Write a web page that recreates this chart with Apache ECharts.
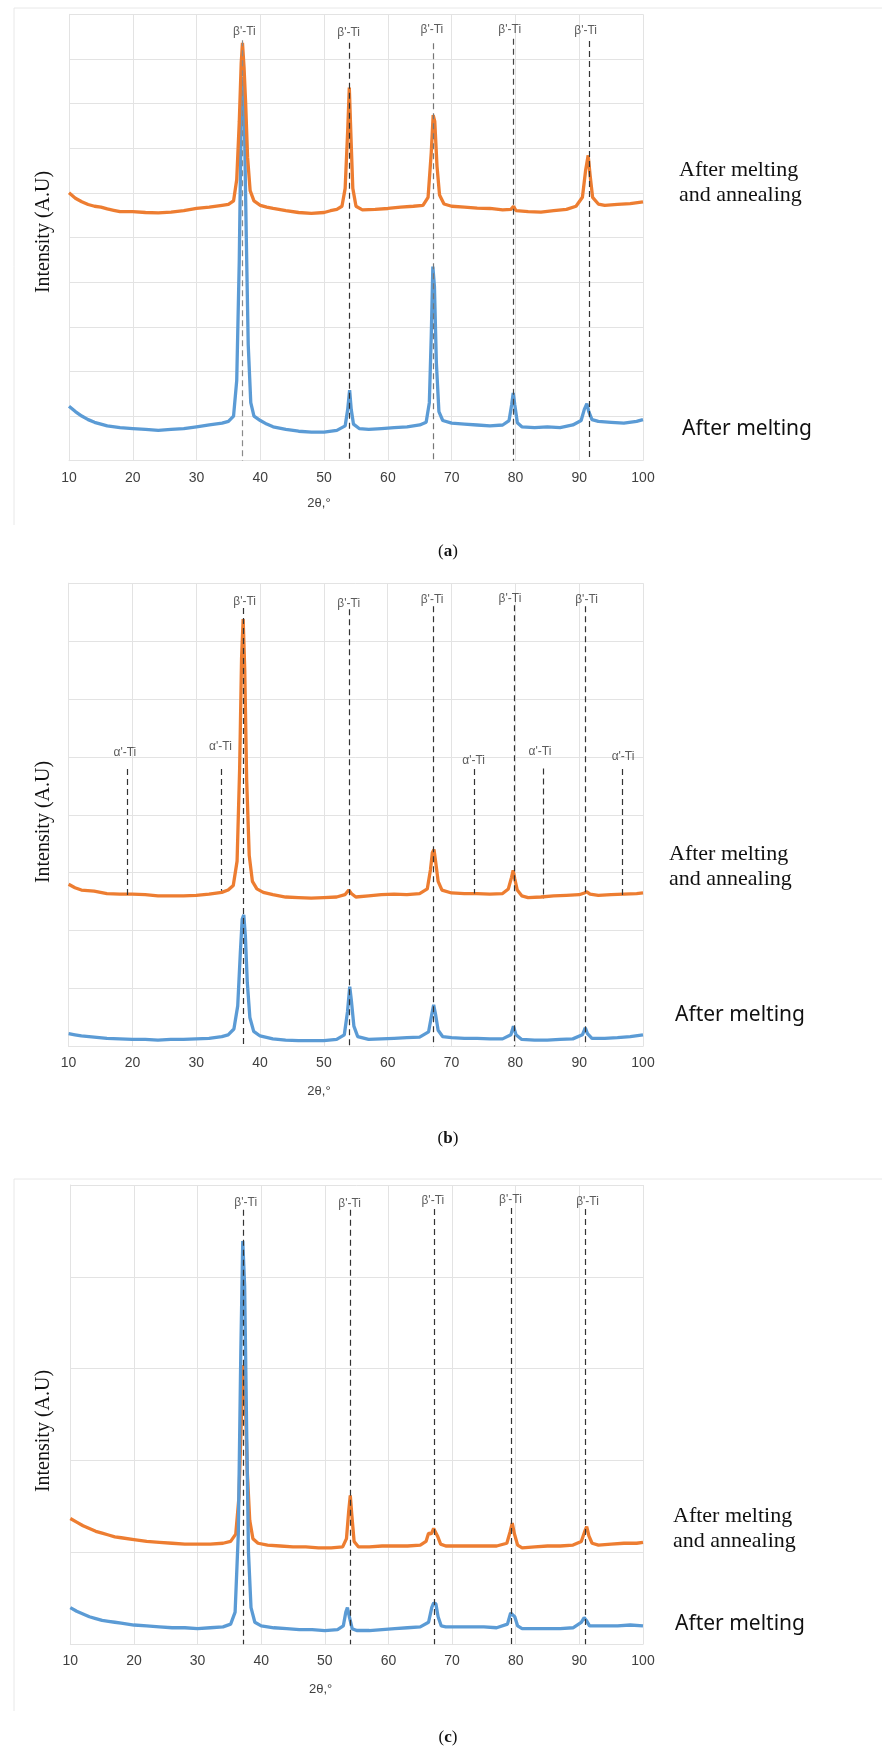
<!DOCTYPE html>
<html>
<head>
<meta charset="utf-8">
<script src="https://cdn.jsdelivr.net/npm/echarts@6/dist/echarts.min.js"></script>
<style>
html,body{margin:0;padding:0;background:#fff;}
#c{width:882px;height:1753px;}
</style>
</head>
<body>
<div id="c"></div>
<script>
// ---------- Panel (a) ----------
const aMelt = [[10,1.22],[11,1.1],[12,1.0],[13,0.92],[14,0.86],[15,0.82],[16,0.78],[18,0.74],[20,0.72],[22,0.7],[24,0.68],[26,0.7],[28,0.72],[30,0.76],[32,0.8],[34,0.84],[35,0.88],[35.8,1.0],[36.3,1.8],[36.7,4.5],[37.0,7.8],[37.25,8.6],[37.5,7.6],[37.8,5.0],[38.1,2.6],[38.5,1.3],[39,1.0],[40,0.9],[41,0.82],[42,0.76],[44,0.7],[46,0.66],[48,0.64],[50,0.64],[52,0.68],[53.3,0.78],[53.7,1.15],[54.0,1.58],[54.25,1.15],[54.6,0.82],[55.5,0.72],[57,0.7],[59,0.72],[61,0.74],[63,0.76],[65,0.8],[66,0.86],[66.5,1.3],[66.8,2.8],[67.05,4.35],[67.3,3.9],[67.6,2.2],[68,1.1],[68.6,0.9],[70,0.84],[72,0.82],[74,0.8],[76,0.78],[78,0.8],[79.0,0.9],[79.4,1.25],[79.65,1.52],[79.9,1.25],[80.3,0.85],[81,0.76],[83,0.74],[85,0.76],[87,0.74],[89,0.8],[90.3,0.9],[90.8,1.15],[91.2,1.28],[91.5,1.1],[92,0.92],[93,0.88],[95,0.86],[97,0.84],[99,0.88],[100,0.92]];
const aAnneal = [[10,6.0],[11,5.88],[12,5.8],[13,5.74],[14,5.7],[15,5.68],[16,5.64],[17,5.61],[18,5.58],[20,5.58],[22,5.56],[24,5.55],[26,5.57],[28,5.6],[30,5.65],[32,5.68],[34,5.72],[35,5.74],[35.8,5.82],[36.3,6.3],[36.7,7.6],[37.0,8.9],[37.2,9.36],[37.45,8.8],[37.7,8.0],[38.0,6.8],[38.4,6.05],[39,5.82],[40,5.72],[41,5.68],[42,5.65],[44,5.6],[46,5.56],[48,5.54],[50,5.56],[51,5.6],[52,5.63],[52.8,5.7],[53.3,6.1],[53.7,7.4],[53.95,8.36],[54.2,7.3],[54.5,6.1],[55,5.7],[56,5.62],[58,5.63],[60,5.65],[62,5.68],[64,5.7],[65.5,5.72],[66.3,5.9],[66.8,6.9],[67.1,7.74],[67.35,7.6],[67.7,6.6],[68.1,5.95],[68.8,5.75],[70,5.7],[72,5.68],[74,5.66],[76,5.65],[78,5.62],[79.3,5.63],[79.7,5.7],[80.1,5.6],[82,5.58],[84,5.57],[86,5.6],[88,5.63],[89.5,5.7],[90.5,5.9],[91.0,6.5],[91.4,6.84],[91.7,6.4],[92.1,5.9],[93,5.75],[94,5.72],[96,5.74],[98,5.76],[100,5.8]];
const aBetaX = [37.2, 53.95, 67.1, 79.6, 91.5];
const aBetaTop = [9.42, 9.36, 9.35, 9.45, 9.4];
const aBetaColor = ['#8a8a8a', '#333333', '#777777', '#444444', '#333333'];
const aBetaLabelX = [37.5, 53.85, 66.9, 79.1, 91.0];
const aBetaLabelY = [9.6, 9.58, 9.66, 9.66, 9.64];

// ---------- Panel (b) ----------
const bMelt = [[10,0.22],[11,0.2],[12,0.18],[14,0.16],[16,0.14],[18,0.13],[20,0.12],[22,0.12],[24,0.11],[26,0.12],[28,0.12],[30,0.13],[32,0.14],[34,0.17],[35,0.2],[35.9,0.3],[36.5,0.7],[36.9,1.6],[37.2,2.2],[37.45,2.27],[37.7,1.9],[38.0,1.1],[38.4,0.5],[39,0.26],[40,0.18],[42,0.13],[44,0.11],[46,0.1],[48,0.1],[50,0.1],[52,0.12],[53.2,0.2],[53.7,0.6],[54.05,1.03],[54.3,0.8],[54.7,0.35],[55.3,0.17],[57,0.12],[59,0.13],[61,0.14],[63,0.15],[65,0.16],[66.4,0.25],[66.9,0.55],[67.2,0.72],[67.5,0.55],[67.9,0.28],[68.6,0.17],[70,0.15],[72,0.14],[74,0.14],[76,0.13],[78,0.13],[79.3,0.2],[79.7,0.35],[80.1,0.2],[81,0.12],[83,0.11],[85,0.11],[87,0.12],[89,0.13],[90.5,0.2],[90.95,0.32],[91.3,0.22],[92,0.14],[94,0.14],[96,0.15],[98,0.17],[100,0.2]];
const bAnneal = [[10,2.8],[11,2.74],[12,2.7],[14,2.68],[16,2.64],[18,2.63],[20,2.63],[22,2.62],[24,2.6],[26,2.6],[28,2.6],[30,2.61],[32,2.63],[34,2.66],[35,2.7],[35.8,2.78],[36.4,3.2],[36.8,4.8],[37.1,6.7],[37.35,7.38],[37.6,6.5],[37.9,4.6],[38.3,3.3],[38.8,2.85],[39.5,2.72],[40.5,2.66],[42,2.62],[44,2.58],[46,2.57],[48,2.56],[50,2.57],[52,2.58],[53.3,2.62],[53.9,2.7],[54.3,2.64],[55,2.58],[57,2.6],[59,2.62],[61,2.63],[63,2.62],[65,2.64],[66.2,2.72],[66.7,3.05],[67.0,3.35],[67.25,3.4],[67.5,3.2],[67.9,2.85],[68.5,2.7],[70,2.65],[72,2.64],[74,2.64],[76,2.63],[78,2.64],[78.9,2.72],[79.4,2.92],[79.65,3.04],[79.9,2.9],[80.3,2.7],[81,2.6],[82,2.57],[84,2.58],[86,2.6],[88,2.61],[90,2.62],[90.8,2.65],[91.2,2.67],[91.7,2.63],[93,2.61],[95,2.62],[97,2.63],[99,2.64],[100,2.65]];
const bBetaX = [37.3, 54.0, 67.2, 79.75, 91.0];
const bBetaTop = [7.57, 7.55, 7.6, 7.62, 7.6];
const bBetaLabelX = [37.58, 53.89, 66.95, 79.16, 91.16];
const bBetaLabelY = [7.68, 7.65, 7.72, 7.74, 7.72];
const bAlphaX = [19.2, 33.9, 73.6, 84.3, 96.7];
const bAlphaTop = [4.79, 4.79, 4.79, 4.8, 4.79];
const bAlphaBottom = [2.6, 2.69, 2.64, 2.55, 2.57];
const bAlphaLabelX = [18.82, 33.8, 73.46, 83.86, 96.87];
const bAlphaLabelY = [5.07, 5.18, 4.93, 5.09, 5.01];

// ---------- Panel (c) ----------
const cMelt = [[10,0.4],[11,0.36],[12,0.33],[13,0.3],[14,0.28],[15,0.26],[16,0.25],[17,0.24],[18,0.23],[20,0.21],[22,0.2],[24,0.19],[26,0.18],[28,0.18],[30,0.17],[32,0.18],[34,0.19],[35.2,0.22],[35.9,0.35],[36.4,1.2],[36.8,3.2],[37.1,4.39],[37.4,3.9],[37.7,2.4],[38.0,1.0],[38.4,0.4],[39,0.24],[40,0.2],[42,0.18],[44,0.17],[46,0.16],[48,0.16],[50,0.15],[52,0.16],[52.9,0.2],[53.3,0.35],[53.55,0.4],[53.85,0.3],[54.3,0.17],[55,0.15],[57,0.15],[59,0.16],[61,0.17],[63,0.18],[65,0.19],[66.3,0.24],[66.8,0.4],[67.1,0.45],[67.45,0.44],[67.8,0.3],[68.3,0.2],[69,0.19],[71,0.19],[73,0.19],[75,0.19],[77,0.18],[78.7,0.22],[79.2,0.34],[79.5,0.36],[79.85,0.3],[80.3,0.2],[81,0.17],[83,0.17],[85,0.17],[87,0.17],[89,0.18],[90.3,0.24],[90.75,0.29],[91.1,0.26],[91.6,0.2],[92.5,0.2],[94,0.2],[96,0.2],[98,0.21],[100,0.2]];
const cAnneal = [[10,1.37],[11,1.33],[12,1.29],[13,1.26],[14,1.23],[15,1.21],[16,1.19],[17,1.17],[18,1.16],[20,1.14],[22,1.12],[24,1.11],[26,1.1],[28,1.09],[30,1.09],[32,1.09],[34,1.1],[35.2,1.12],[36.0,1.2],[36.5,1.6],[36.9,2.5],[37.2,3.04],[37.5,2.7],[37.8,1.9],[38.2,1.35],[38.7,1.15],[39.5,1.1],[41,1.08],[43,1.07],[45,1.06],[47,1.06],[49,1.05],[51,1.05],[52.8,1.06],[53.4,1.15],[53.75,1.45],[54.0,1.62],[54.25,1.4],[54.6,1.12],[55.3,1.06],[57,1.06],[59,1.07],[61,1.07],[63,1.07],[65,1.08],[65.9,1.12],[66.3,1.21],[66.7,1.2],[67.1,1.26],[67.35,1.28],[67.7,1.18],[68.2,1.09],[69,1.07],[71,1.07],[73,1.07],[75,1.07],[77,1.07],[78.6,1.1],[79.1,1.22],[79.45,1.32],[79.8,1.2],[80.3,1.08],[81,1.05],[83,1.06],[85,1.07],[87,1.07],[89,1.08],[90.3,1.12],[90.8,1.22],[91.15,1.28],[91.5,1.18],[92,1.1],[93,1.08],[95,1.09],[97,1.1],[99,1.1],[100,1.11]];
const cBetaX = [37.2, 54.0, 67.2, 79.3, 91.0];
const cBetaTop = [4.73, 4.73, 4.74, 4.75, 4.74];
const cBetaLabelX = [37.57, 53.9, 66.97, 79.17, 91.28];
const cBetaLabelY = [4.81, 4.8, 4.83, 4.84, 4.82];

const yMax = [10, 8, 5];
const betaLabel = "β'-Ti";
const alphaLabel = "α'-Ti";
const annealText = 'After melting\nand annealing';
const meltText = 'After melting';
const yTitle = 'Intensity (A.U)';
const xTitle = '2θ,°';
const captions = ['a', 'b', 'c'];

// ---------- layout ----------
const ORANGE = '#ED7D31', BLUE = '#5B9BD5', GRID = '#e3e3e3';
const grids = [
  {left: 69, top: 14.3, width: 574, height: 446.4},
  {left: 68.6, top: 583.2, width: 574.4, height: 463.2},
  {left: 70.3, top: 1185, width: 572.7, height: 459.3}
];

function xAx(i) {
  return {
    type: 'value', gridIndex: i, min: 10, max: 100, interval: 10,
    axisLine: {show: true, lineStyle: {color: GRID}},
    axisTick: {show: false},
    axisLabel: {color: '#404040', fontSize: 14, fontFamily: 'Liberation Sans', margin: 10},
    splitLine: {show: true, lineStyle: {color: GRID, width: 1}}
  };
}
function yAx(i) {
  return {
    type: 'value', gridIndex: i, min: 0, max: yMax[i], interval: 1,
    axisLine: {show: true, lineStyle: {color: GRID}},
    axisTick: {show: false},
    axisLabel: {show: false},
    splitLine: {show: true, lineStyle: {color: GRID, width: 1}}
  };
}
function curve(i, data, color, z) {
  return {
    type: 'line', xAxisIndex: i, yAxisIndex: i, data: data, showSymbol: false, symbol: 'none',
    lineStyle: {color: color, width: 3.3}, itemStyle: {color: color}, z: z, silent: true, animation: false
  };
}
function refLines(i, xs, tops, bottoms, colors) {
  const d = xs.map((x, k) => [
    {coord: [x, tops[k]], lineStyle: {color: colors ? colors[k] : '#333333'}},
    {coord: [x, bottoms ? bottoms[k] : 0]}
  ]);
  return {
    type: 'line', xAxisIndex: i, yAxisIndex: i, data: [], z: 10, silent: true, animation: false,
    markLine: {
      silent: true, symbol: ['none', 'none'], animation: false,
      label: {show: false},
      lineStyle: {type: [6, 4], width: 1.2, color: '#333333'},
      emphasis: {disabled: true},
      data: d
    }
  };
}
function labels(i, xs, ys, text) {
  return {
    type: 'scatter', xAxisIndex: i, yAxisIndex: i, symbolSize: 1, z: 11, silent: true, animation: false,
    itemStyle: {color: 'transparent'},
    label: {show: true, position: 'inside', formatter: '{b}', color: '#333333', fontSize: 12, fontFamily: 'Liberation Sans'},
    data: xs.map((x, k) => ({name: text, value: [x, ys[k]]}))
  };
}

const series = [
  curve(0, aMelt, BLUE, 2), curve(0, aAnneal, ORANGE, 3),
  refLines(0, aBetaX, aBetaTop, null, aBetaColor), labels(0, aBetaLabelX, aBetaLabelY, betaLabel),
  curve(1, bMelt, BLUE, 2), curve(1, bAnneal, ORANGE, 3),
  refLines(1, bBetaX, bBetaTop, null, null), labels(1, bBetaLabelX, bBetaLabelY, betaLabel),
  refLines(1, bAlphaX, bAlphaTop, bAlphaBottom, null), labels(1, bAlphaLabelX, bAlphaLabelY, alphaLabel),
  curve(2, cAnneal, ORANGE, 2), curve(2, cMelt, BLUE, 3),
  refLines(2, cBetaX, cBetaTop, null, null), labels(2, cBetaLabelX, cBetaLabelY, betaLabel)
];

// text placements (pixels)
const annPos = [[679, 183], [669, 867], [673, 1529]];
const meltPos = [[682, 428.6], [675, 1015.4], [675, 1624]];
const yTitlePos = [[44, 232], [44, 822], [44, 1431]];
const xTitlePos = [[319, 503.6], [319, 1091.4], [320.6, 1689.2]];
const capPos = [[448, 552], [448, 1139], [448, 1738]];

const graphic = [];
// light outer frames for panels (a) and (c)
graphic.push({type: 'line', shape: {x1: 14, y1: 8, x2: 882, y2: 8}, style: {stroke: '#e8e8e8', lineWidth: 1}, silent: true});
graphic.push({type: 'line', shape: {x1: 14, y1: 8, x2: 14, y2: 525}, style: {stroke: '#e8e8e8', lineWidth: 1}, silent: true});
graphic.push({type: 'line', shape: {x1: 14, y1: 1179, x2: 882, y2: 1179}, style: {stroke: '#e8e8e8', lineWidth: 1}, silent: true});
graphic.push({type: 'line', shape: {x1: 14, y1: 1179, x2: 14, y2: 1711}, style: {stroke: '#e8e8e8', lineWidth: 1}, silent: true});
for (let i = 0; i < 3; i++) {
  graphic.push({type: 'text', x: annPos[i][0], y: annPos[i][1], silent: true,
    style: {text: annealText, font: '22px "Liberation Serif"', fill: '#111', lineHeight: 25,
      align: 'left', verticalAlign: 'middle', textAlign: 'left', textVerticalAlign: 'middle'}});
  graphic.push({type: 'text', x: meltPos[i][0], y: meltPos[i][1], silent: true,
    style: {text: meltText, font: '21px "Noto Sans"', fill: '#111',
      align: 'left', verticalAlign: 'middle', textAlign: 'left', textVerticalAlign: 'middle'}});
  graphic.push({type: 'text', x: yTitlePos[i][0], y: yTitlePos[i][1], rotation: Math.PI / 2, silent: true,
    style: {text: yTitle, font: '20px "Liberation Serif"', fill: '#111',
      align: 'center', verticalAlign: 'middle', textAlign: 'center', textVerticalAlign: 'middle'}});
  graphic.push({type: 'text', x: xTitlePos[i][0], y: xTitlePos[i][1], silent: true,
    style: {text: xTitle, font: '13px "Liberation Sans"', fill: '#404040',
      align: 'center', verticalAlign: 'middle', textAlign: 'center', textVerticalAlign: 'middle'}});
  graphic.push({type: 'text', x: capPos[i][0], y: capPos[i][1], silent: true,
    style: {text: '({b|' + captions[i] + '})', font: '17px "Liberation Serif"', fill: '#111',
      rich: {b: {fontWeight: 'bold', fontSize: 17, fontFamily: 'Liberation Serif', fill: '#111', color: '#111'}},
      align: 'center', verticalAlign: 'middle', textAlign: 'center', textVerticalAlign: 'middle'}});
}

const chart = echarts.init(document.getElementById('c'), null, {renderer: 'canvas'});
chart.setOption({
  backgroundColor: '#ffffff',
  animation: false,
  grid: grids,
  xAxis: [xAx(0), xAx(1), xAx(2)],
  yAxis: [yAx(0), yAx(1), yAx(2)],
  series: series,
  graphic: graphic
});
</script>
</body>
</html>
